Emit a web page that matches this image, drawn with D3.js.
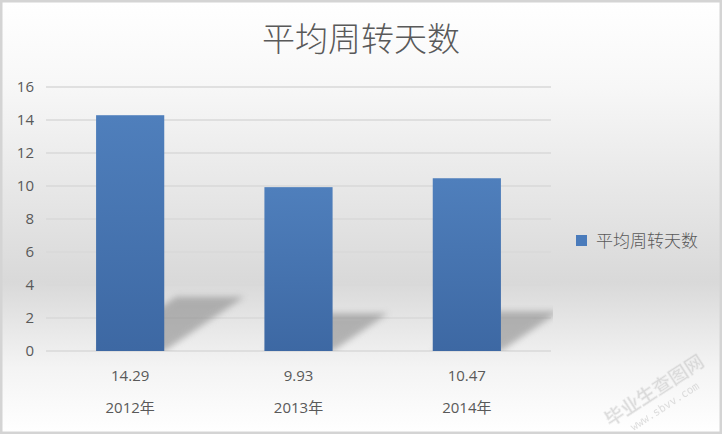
<!DOCTYPE html>
<html>
<head>
<meta charset="utf-8">
<script src="https://cdn.jsdelivr.net/npm/d3@7"></script>
<style>
  html, body { margin: 0; padding: 0; background: #fff; }
  svg { display: block; }
</style>
</head>
<body>
<div id="chart"></div>
<script>
var title = "平均周转天数";
var seriesName = "平均周转天数";
var categories = ["2012年", "2013年", "2014年"];
var values = [14.29, 9.93, 10.47];
var valueLabels = ["14.29", "9.93", "10.47"];
var yTicks = [0, 2, 4, 6, 8, 10, 12, 14, 16];

var chart = (function () {
    var W = 722, H = 434,
        left = 46, right = 551, top = 87, bottom = 351;

    return {
        draw: function (sel) {
            var svg = d3.select(sel).append("svg").attr("width", W).attr("height", H);
            var defs = svg.append("defs");

            var bg = defs.append("linearGradient").attr("id", "bg").attr("x1", 0).attr("y1", 0).attr("x2", 0).attr("y2", 1);
            bg.append("stop").attr("offset", "0%").attr("stop-color", "#ffffff");
            bg.append("stop").attr("offset", "20%").attr("stop-color", "#f7f7f7");
            bg.append("stop").attr("offset", "65%").attr("stop-color", "#d9d9d9");
            bg.append("stop").attr("offset", "85%").attr("stop-color", "#f4f4f4");
            bg.append("stop").attr("offset", "100%").attr("stop-color", "#ffffff");

            var bar = defs.append("linearGradient").attr("id", "bar").attr("x1", 0).attr("y1", 0).attr("x2", 0).attr("y2", 1);
            bar.append("stop").attr("offset", "0%").attr("stop-color", "#4f7fbc");
            bar.append("stop").attr("offset", "100%").attr("stop-color", "#3d68a3");

            defs.append("filter").attr("id", "blur").attr("x", "-20%").attr("y", "-20%").attr("width", "140%").attr("height", "140%")
                .append("feGaussianBlur").attr("stdDeviation", 3);

            defs.append("clipPath").attr("id", "plot").append("rect")
                .attr("x", left).attr("y", top - 10).attr("width", right - left + 2).attr("height", bottom - top + 10);

            // background + frame
            svg.append("rect").attr("x", 1).attr("y", 1).attr("width", W - 2).attr("height", H - 2)
                .attr("fill", "url(#bg)").attr("stroke", "#d4d4d4").attr("stroke-width", 3);

            var x = d3.scaleBand().domain(categories).range([left, right]).paddingInner(0.595).paddingOuter(0.2975);
            var y = d3.scaleLinear().domain([0, 16]).range([bottom, top]);

            // gridlines
            svg.append("g").selectAll("line").data(yTicks).enter().append("line")
                .attr("x1", left).attr("x2", right)
                .attr("y1", function (d) { return y(d); }).attr("y2", function (d) { return y(d); })
                .attr("stroke", "#d9d9d9").attr("stroke-width", 1.5);

            // y tick labels
            svg.append("g").selectAll("text").data(yTicks).enter().append("text")
                .attr("x", 34).attr("y", function (d) { return y(d); }).attr("dy", "0.35em")
                .attr("text-anchor", "end").attr("fill", "#595959")
                .style("font", "15px 'Open Sans', sans-serif")
                .text(function (d) { return d; });

            // shadows
            svg.append("g").attr("clip-path", "url(#plot)").selectAll("path").data(values).enter().append("path")
                .attr("d", function (d, i) {
                    var x0 = x(categories[i]), x1 = x0 + x.bandwidth(), b = y(0), h = y(0) - y(d);
                    var dx = h * 0.34, dy = h * 0.23;
                    return "M" + x0 + "," + b + "L" + x1 + "," + b + "L" + (x1 + dx) + "," + (b - dy) +
                        "L" + (x0 + dx) + "," + (b - dy) + "Z";
                })
                .attr("fill", "#8c8c8c").attr("opacity", 0.6).attr("filter", "url(#blur)");

            // bars
            svg.append("g").selectAll("rect").data(values).enter().append("rect")
                .attr("x", function (d, i) { return x(categories[i]); })
                .attr("y", function (d) { return y(d); })
                .attr("width", x.bandwidth())
                .attr("height", function (d) { return y(0) - y(d); })
                .attr("fill", "url(#bar)");

            // value labels (data table row) and categories
            svg.append("g").selectAll("text").data(valueLabels).enter().append("text")
                .attr("x", function (d, i) { return x(categories[i]) + x.bandwidth() / 2; })
                .attr("y", 381).attr("text-anchor", "middle").attr("fill", "#595959")
                .style("font", "15px 'Open Sans', sans-serif")
                .text(function (d) { return d; });

            svg.append("g").selectAll("text").data(categories).enter().append("text")
                .attr("x", function (d) { return x(d) + x.bandwidth() / 2; })
                .attr("y", 413).attr("text-anchor", "middle").attr("fill", "#595959")
                .style("font", "15px 'Open Sans', 'Noto Sans CJK SC', sans-serif")
                .text(function (d) { return d; });

            // title
            svg.append("text").attr("x", 361).attr("y", 51).attr("text-anchor", "middle")
                .attr("fill", "#595959").style("font", "300 33px 'Noto Sans CJK SC', sans-serif")
                .text(title);

            // legend
            var lg = svg.append("g").attr("transform", "translate(576,235)");
            lg.append("rect").attr("width", 11).attr("height", 11).attr("fill", "#4a7bbb");
            lg.append("text").attr("x", 20).attr("y", 5.5).attr("dy", "0.36em").attr("fill", "#595959")
                .style("font", "300 17px 'Noto Sans CJK SC', sans-serif").text(seriesName);

            // watermark
            var wm = svg.append("g").attr("transform", "translate(658,396) rotate(-33)").attr("opacity", 0.55);
            wm.append("text").attr("text-anchor", "middle").attr("fill", "#c4c4c4")
                .attr("stroke", "#e8e8e8").attr("stroke-width", 0.6)
                .style("font", "bold 19px 'Noto Sans CJK SC', sans-serif").text("毕业生查图网");
            wm.append("text").attr("y", 16).attr("text-anchor", "middle").attr("fill", "#c4c4c4")
                .style("font", "11px 'DejaVu Sans Mono', monospace").text("www.sbvv.com");
        }
    };
})();

chart.draw("#chart");
</script>
</body>
</html>
